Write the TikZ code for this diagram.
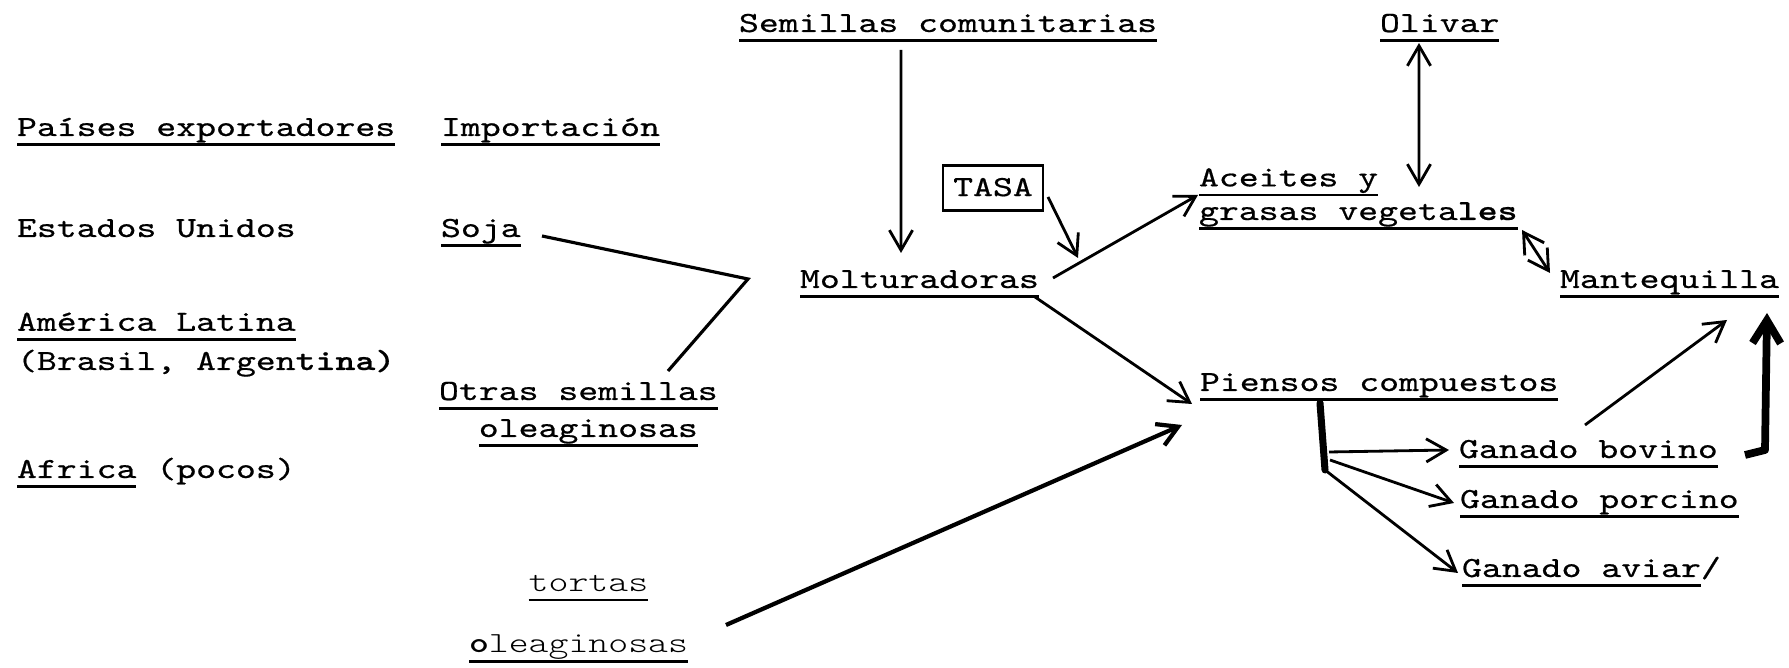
\documentclass[tikz,border=0pt]{standalone}
\usepackage{fontspec}
\usepackage{tikz,tkz-graph}
\usetikzlibrary{arrows.meta}
\newfontfamily\maquina{lmmono10-regular.otf}[FakeStretch=1.3, FakeBold=0.6, BoldFont=lmmonolt10-bold.otf]
\newfontfamily\maquinafina{lmmonolt10-regular.otf}[FakeStretch=1.3, BoldFont=lmmonolt10-bold.otf]
\newcommand\subr[1]{\setbox0=\hbox{#1}\rlap{\rule[-2.8pt]{\wd0}{0.7pt}}\box0\relax}
\tikzstyle{typedText}=[font = \fontsize{8.3}{9.96}\maquina, inner sep = 0pt, anchor = base west]
\tikzstyle{lightText}=[font = \fontsize{8.3}{9.96}\maquinafina, inner sep = 0pt, anchor = base west]
\tikzstyle{boxedText}=[font = \fontsize{8.3}{9.96}\maquina, draw, line width = 0.8pt, inner sep = 0pt, minimum width = 1cm, minimum height = 0.45cm]
\tikzstyle{thinArrow}=[-{Straight Barb[length = 5.7pt, width = 6.6pt]}, line width = 0.8pt]
\tikzstyle{bothArrow}=[{Straight Barb[length = 5.7pt, width = 6.6pt]}-{Straight Barb[length = 5.7pt, width = 6.6pt]}, line width = 0.8pt]
\tikzstyle{thickArrow}=[-{Straight Barb[length = 6.5pt, width = 8pt]}, line width = 2.2pt, line join = round]
\tikzstyle{plainLine}=[line width = 0.9pt]
\tikzstyle{stemLine}=[line width = 2pt, line cap = round]

\begin{document}
\begin{tikzpicture}
\useasboundingbox (0,0) rectangle (17.89,-6.68);
\tikzstyle{VertexStyle} = []
\tikzstyle{EdgeStyle} = []
\Vertex[style = typedText, x = 7.39, y = -0.32, L = {\subr{Semillas comunitarias}}]{semillas}
\Vertex[style = typedText, x = 13.80, y = -0.32, L = {\subr{Olivar}}]{olivar}
\Vertex[style = typedText, x = 0.17, y = -1.36, L = {\subr{Países exportadores}}]{paises}
\Vertex[style = typedText, x = 4.41, y = -1.36, L = {\subr{Importación}}]{importacion}
\Vertex[style = {boxedText, text depth = 0.02cm}, x = 9.93, y = -1.88, L = {TASA}]{tasa}
\Vertex[style = {typedText, align = left}, x = 11.99, y = -2.20,
L = {\subr{Aceites y}\\[-0.4pt]\subr{grasas vegeta\textbf{les}}}]{aceites}
\Vertex[style = typedText, x = 0.17, y = -2.37, L = {Estados Unidos}]{estados}
\Vertex[style = typedText, x = 4.41, y = -2.37, L = {\subr{Soja}}]{soja}
\Vertex[style = typedText, x = 8.00, y = -2.88, L = {\subr{Molturadoras}}]{molt}
\Vertex[style = typedText, x = 15.60, y = -2.88, L = {\subr{Mantequilla}}]{mant}
\Vertex[style = {typedText, align = left}, x = 0.17, y = -3.70,
L = {\subr{América Latina}\\[1.2pt](Brasil, Argen\textbf{tina)}}]{america}
\Vertex[style = {typedText, align = left}, x = 4.39, y = -4.37,
L = {\subr{Otras semillas}\\[0.57pt]\phantom{Ot}\subr{oleaginosas}}]{otras}
\Vertex[style = typedText, x = 0.17, y = -4.78, L = {\subr{Africa} (pocos)}]{africa}
\Vertex[style = typedText, x = 12.00, y = -3.91, L = {\subr{Piensos compuestos}}]{piensos}
\Vertex[style = typedText, x = 14.59, y = -4.58, L = {\subr{Ganado bovino}}]{bovino}
\Vertex[style = typedText, x = 14.60, y = -5.08, L = {\subr{Ganado porcino}}]{porcino}
\Vertex[style = typedText, x = 14.62, y = -5.77, L = {\subr{Ganado aviar}/}]{aviar}
\Vertex[style = {lightText, align = left}, x = 4.69, y = -6.53,
L = {\phantom{tor}\subr{tortas}\\[7.6pt]\subr{\textbf{o}leaginosas}}]{tortas}
\coordinate (junta) at (7.48,-2.79);
\coordinate (tallo) at (13.25,-4.70);
% semillas y molturadoras
\draw[plainLine] ([shift={(1.01,0.01)}]soja.base west) -- (junta) -- ([shift={(2.29,0.66)}]otras.base west);
\draw[thinArrow] ([shift={(1.62,-0.18)}]semillas.base west) -- ([shift={(1.01,0.35)}]molt.base west);
\draw[thinArrow] ([shift={(0.55,-0.09)}]tasa.center) -- ([shift={(2.78,0.30)}]molt.base west);
\draw[thinArrow] ([shift={(2.53,0.10)}]molt.base west) -- ([shift={(-0.01,0.25)}]aceites.base west);
\draw[thinArrow] ([shift={(2.35,-0.09)}]molt.base west) -- ([shift={(-0.08,-0.13)}]piensos.base west);
\draw[thinArrow, line width = 1.2pt] ([shift={(2.57,0.28)}]tortas.base west) -- ([shift={(-0.18,-0.34)}]piensos.base west);
% aceites y mantequilla
\draw[bothArrow] ([shift={(0.39,-0.11)}]olivar.base west) -- ([shift={(2.20,0.33)}]aceites.base west);
\draw[bothArrow] ([shift={(3.23,-0.10)}]aceites.base west) -- ([shift={(-0.10,0.15)}]mant.base west);
% piensos y ganado
\draw[stemLine] ([shift={(1.20,-0.12)}]piensos.base west) -- (tallo);
\draw[thinArrow] ([shift={(0.04,0.18)}]tallo) -- ([shift={(-0.10,0.08)}]bovino.base west);
\draw[thinArrow] ([shift={(0.05,0.10)}]tallo) -- ([shift={(-0.06,0.05)}]porcino.base west);
\draw[thinArrow] (tallo) -- ([shift={(-0.04,0.04)}]aviar.base west);
\draw[thinArrow] ([shift={(1.26,0.33)}]bovino.base west) -- ([shift={(1.67,-0.32)}]mant.base west);
\draw[thickArrow] ([shift={(2.86,0.03)}]bovino.base west) -- ++(0.20,0.05) -- ([shift={(2.07,-0.25)}]mant.base west);
\end{tikzpicture}
\end{document}
